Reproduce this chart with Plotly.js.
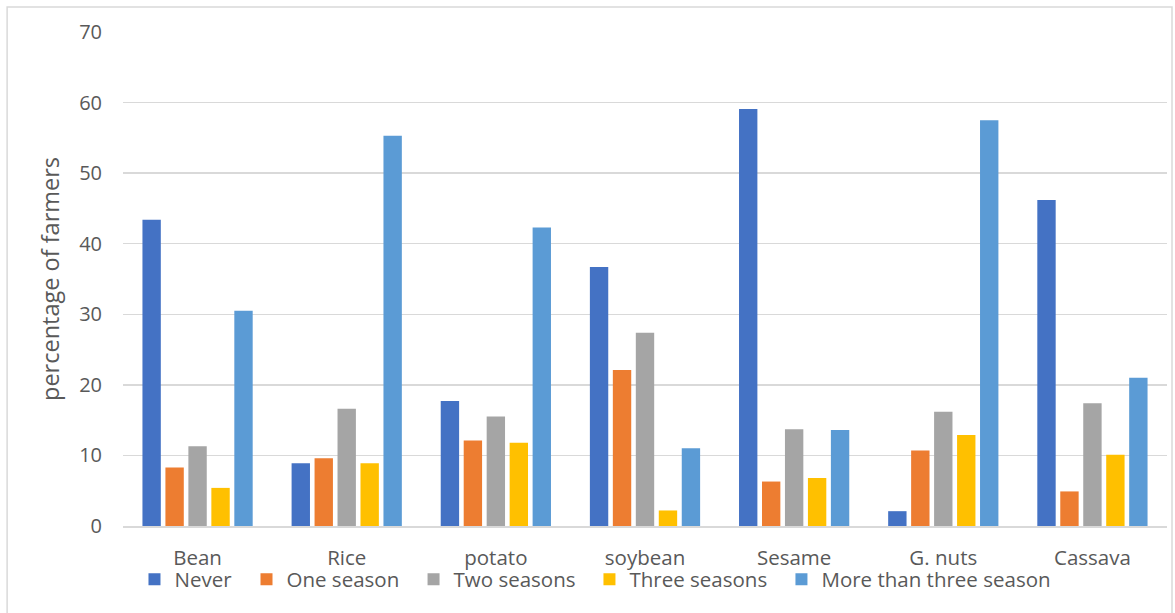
<!DOCTYPE html>
<html>
<head>
<meta charset="utf-8">
<script src="https://cdn.plot.ly/plotly-3.0.1.min.js"></script>
<style>
  html, body { margin: 0; padding: 0; background: #ffffff; }
  #chart { width: 1175px; height: 613px; }
</style>
</head>
<body>
<div id="chart"></div>
<script>
// Crops and how often farmers grew them (percentage of farmers)
const crops = ["Bean", "Rice", "potato", "soybean", "Sesame", "G. nuts", "Cassava"];

const never          = [43.4,  8.9, 17.7, 36.7, 59.1,  2.1, 46.2];
const oneSeason      = [ 8.3,  9.6, 12.1, 22.1,  6.3, 10.7,  4.9];
const twoSeasons     = [11.3, 16.6, 15.5, 27.4, 13.7, 16.2, 17.4];
const threeSeasons   = [ 5.4,  8.9, 11.8,  2.2,  6.8, 12.9, 10.1];
const moreThanThree  = [30.5, 55.3, 42.3, 11.0, 13.6, 57.5, 21.0];

const seriesNames = ["Never", "One season", "Two seasons", "Three seasons", "More than three season"];
const seriesValues = [never, oneSeason, twoSeasons, threeSeasons, moreThanThree];
const seriesColors = ["#4472C4", "#ED7D31", "#A5A5A5", "#FFC000", "#5B9BD5"];

const yTicks = [0, 10, 20, 30, 40, 50, 60, 70];

// each series gets its own legend box so the entries sit in one spaced-out row
const legendIds = ["legend", "legend2", "legend3", "legend4", "legend5"];
const legendX = [0.0110, 0.1183, 0.2783, 0.4468, 0.6307];

const textColor = "#595959";
const fontFamily = "'Open Sans', 'Liberation Sans', sans-serif";

const traces = seriesNames.map((name, i) => ({
  type: "bar",
  name: name,
  x: crops,
  y: seriesValues[i],
  legend: legendIds[i],
  marker: { color: seriesColors[i] },
  hoverinfo: "x+y+name"
}));

const layout = {
  width: 1175,
  height: 613,
  margin: { l: 123, r: 8, t: 32, b: 87 },
  paper_bgcolor: "#ffffff",
  plot_bgcolor: "#ffffff",
  font: { family: fontFamily, color: textColor, size: 20 },
  barmode: "group",
  bargap: 0.23,
  bargroupgap: 0.2,
  showlegend: true,
  xaxis: {
    type: "category",
    showgrid: false,
    showline: true,
    linecolor: "#d9d9d9",
    linewidth: 1.5,
    ticks: "",
    ticklabelstandoff: 13,
    tickfont: { family: fontFamily, size: 20.5, color: textColor },
    zeroline: false
  },
  yaxis: {
    range: [0, 70],
    tickvals: yTicks,
    ticktext: yTicks.map(String),
    showgrid: true,
    gridcolor: "#d9d9d9",
    gridwidth: 1.5,
    zeroline: false,
    showline: false,
    ticks: "",
    ticklabelstandoff: 20,
    tickfont: { family: fontFamily, size: 20, color: textColor },
    title: {
      text: "percentage of farmers",
      font: { family: fontFamily, size: 23.5, color: textColor },
      standoff: 12
    }
  },
  shapes: [
    {
      type: "rect",
      xref: "paper", yref: "paper",
      x0: -0.111, x1: 1.0048,
      y0: -0.3, y1: 1.0506,
      line: { color: "#d9d9d9", width: 1.5 },
      fillcolor: "rgba(0,0,0,0)",
      layer: "below"
    }
  ]
};

legendIds.forEach((id, i) => {
  layout[id] = {
    orientation: "h",
    x: legendX[i],
    xanchor: "left",
    y: -0.108,
    yanchor: "middle",
    font: { family: fontFamily, size: 20.5, color: textColor },
    bgcolor: "rgba(0,0,0,0)",
    itemwidth: 30
  };
});

Plotly.newPlot("chart", traces, layout, { displayModeBar: false, staticPlot: true });
</script>
</body>
</html>
